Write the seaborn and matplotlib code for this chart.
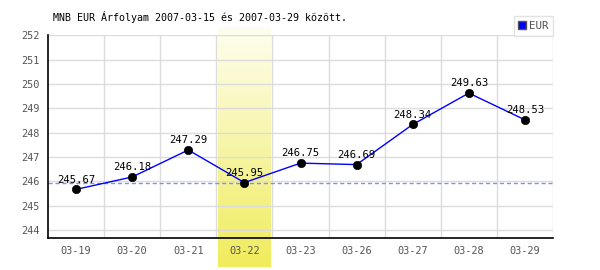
import matplotlib
matplotlib.use("Agg")
import matplotlib.pyplot as plt
import seaborn as sns
import numpy as np
import pandas as pd
from matplotlib.colors import LinearSegmentedColormap
from matplotlib.lines import Line2D

dates = ["03-19", "03-20", "03-21", "03-22", "03-23", "03-26", "03-27", "03-28", "03-29"]
eur = [245.67, 246.18, 247.29, 245.95, 246.75, 246.69, 248.34, 249.63, 248.53]
highlight_date = "03-22"
ref_value = 245.95
yticks = [244, 245, 246, 247, 248, 249, 250, 251, 252]
title = "MNB EUR Árfolyam 2007-03-15 és 2007-03-29 között."

sns.set_theme(style="white")
plt.rcParams['font.family'] = ['DejaVu Sans Mono', 'DejaVu Sans']

df = pd.DataFrame({"date": dates, "EUR": eur})
df["x"] = np.arange(len(dates))

fig = plt.figure(figsize=(6, 2.7), dpi=100)
ax = fig.add_axes([48/600, 1 - 238/270, 505/600, 203/270])

ax.set_xlim(-0.5, len(dates) - 0.5)
ax.set_ylim(243.67, 252.02)

# highlight band with gradient
hi = dates.index(highlight_date)
grad = np.linspace(0, 1, 256).reshape(-1, 1)
cmap = LinearSegmentedColormap.from_list("hl", ["#fefef0", "#f0ec5c"])
ax.imshow(grad, aspect="auto", cmap=cmap, origin="upper",
          extent=[hi - 0.47, hi + 0.47, 242.48, 252.33], clip_on=False, zorder=0)

# grid
for xv in np.arange(0.5, len(dates) - 0.5, 1.0):
    ax.axvline(xv, color="#dcdcdc", lw=1, zorder=1)
ax.axvline(len(dates) - 0.5, color="#dcdcdc", lw=1, zorder=1)
for yv in yticks:
    ax.axhline(yv, color="#dcdcdc", lw=1, zorder=1)

ax.axhline(ref_value, color="#8c8cf0", lw=1, ls=(0, (3, 2)), zorder=2)

sns.lineplot(data=df, x="x", y="EUR", ax=ax, color="#0000ff", lw=1, zorder=3, legend=False)
sns.scatterplot(data=df, x="x", y="EUR", ax=ax, color="black", s=36, zorder=4, legend=False, edgecolor="black")

for xi, v in zip(df["x"], df["EUR"]):
    ax.annotate(f"{v:.2f}", (xi, v), xytext=(0, 3.5), textcoords="offset points",
                ha="center", va="bottom", fontsize=7.6, color="black", zorder=5)

ax.set_xticks(df["x"])
ax.set_xticklabels(dates)
ax.set_yticks(yticks)
ax.tick_params(axis="both", colors="#555555", labelsize=7.4, length=0, pad=6)
ax.set_xlabel("")
ax.set_ylabel("")
for s in ["top", "right"]:
    ax.spines[s].set_visible(False)
for s in ["left", "bottom"]:
    ax.spines[s].set_color("black")
    ax.spines[s].set_linewidth(1.2)

fig.text(53/600, 1 - 17/270, title, fontsize=7.2, color="black", va="center", ha="left")

# legend
h = [Line2D([], [], marker="s", ls="none", markerfacecolor="#0000ff",
            markeredgecolor="#555555", markersize=5.5)]
leg = fig.legend(h, ["EUR"], loc="upper right", bbox_to_anchor=(553/600, 1 - 16/270),
                 frameon=True, fontsize=7.8, handlelength=0.6, handletextpad=0.3,
                 borderpad=0.45, borderaxespad=0, fancybox=False)
leg.get_frame().set_edgecolor("#dcdcdc")
leg.get_frame().set_linewidth(1)
for t in leg.get_texts():
    t.set_color("#555555")

fig.savefig("out.png", dpi=100)
